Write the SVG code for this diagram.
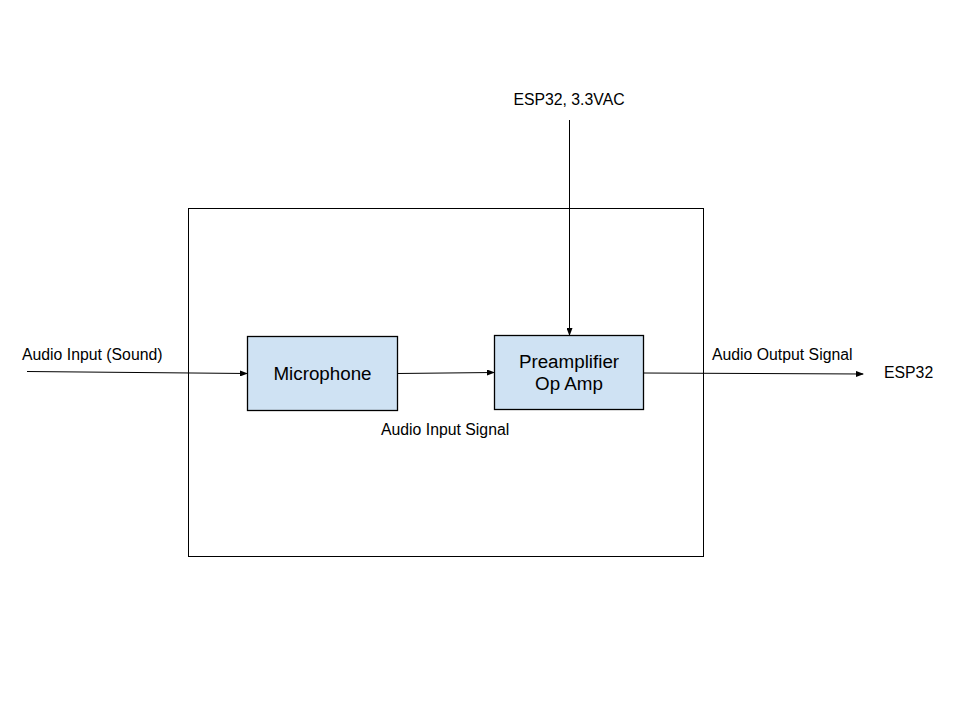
<svg xmlns="http://www.w3.org/2000/svg" width="960" height="720" viewBox="0 0 960 720">
<style>
.box{fill:#cfe2f3;stroke:#000;stroke-width:1.3}
.frame{fill:none;stroke:#000;stroke-width:1}
.c{stroke:#000;stroke-width:1;fill:none;marker-end:url(#ah)}
.t{font-family:"Liberation Sans",Arial,sans-serif;font-size:15.8px;fill:#000}
.n{font-family:"Liberation Sans",Arial,sans-serif;font-size:18.8px;fill:#000;text-anchor:middle}
</style>
<defs>
<marker id="ah" markerWidth="8" markerHeight="6" refX="7" refY="3" orient="auto" markerUnits="userSpaceOnUse">
<path d="M0,0 L8,3 L0,6 Z" fill="#000"/>
</marker>
</defs>
<rect width="960" height="720" fill="#fff"/>
<g id="frame"><rect class="frame" x="188.5" y="208.5" width="515" height="348"/></g>
<g id="connectors">
<line class="c" x1="27" y1="371.5" x2="247" y2="373.5"/>
<line class="c" x1="397" y1="373.5" x2="494" y2="372.5"/>
<line class="c" x1="643" y1="373" x2="863" y2="374"/>
<line class="c" x1="569.5" y1="120" x2="569.5" y2="335"/>
</g>
<g id="microphone">
<rect class="box" x="247.5" y="336.5" width="150" height="74"/>
<text class="n" x="322.5" y="380">Microphone</text>
</g>
<g id="preamp">
<rect class="box" x="494.5" y="335.5" width="149" height="74"/>
<text class="n" x="569" y="368">Preamplifier</text>
<text class="n" x="569" y="390">Op Amp</text>
</g>
<g id="labels">
<text class="t" x="22" y="360">Audio Input (Sound)</text>
<text class="t" x="569" y="105" text-anchor="middle">ESP32, 3.3VAC</text>
<text class="t" x="381" y="435">Audio Input Signal</text>
<text class="t" x="712" y="360">Audio Output Signal</text>
<text class="t" x="884" y="378">ESP32</text>
</g>
</svg>
